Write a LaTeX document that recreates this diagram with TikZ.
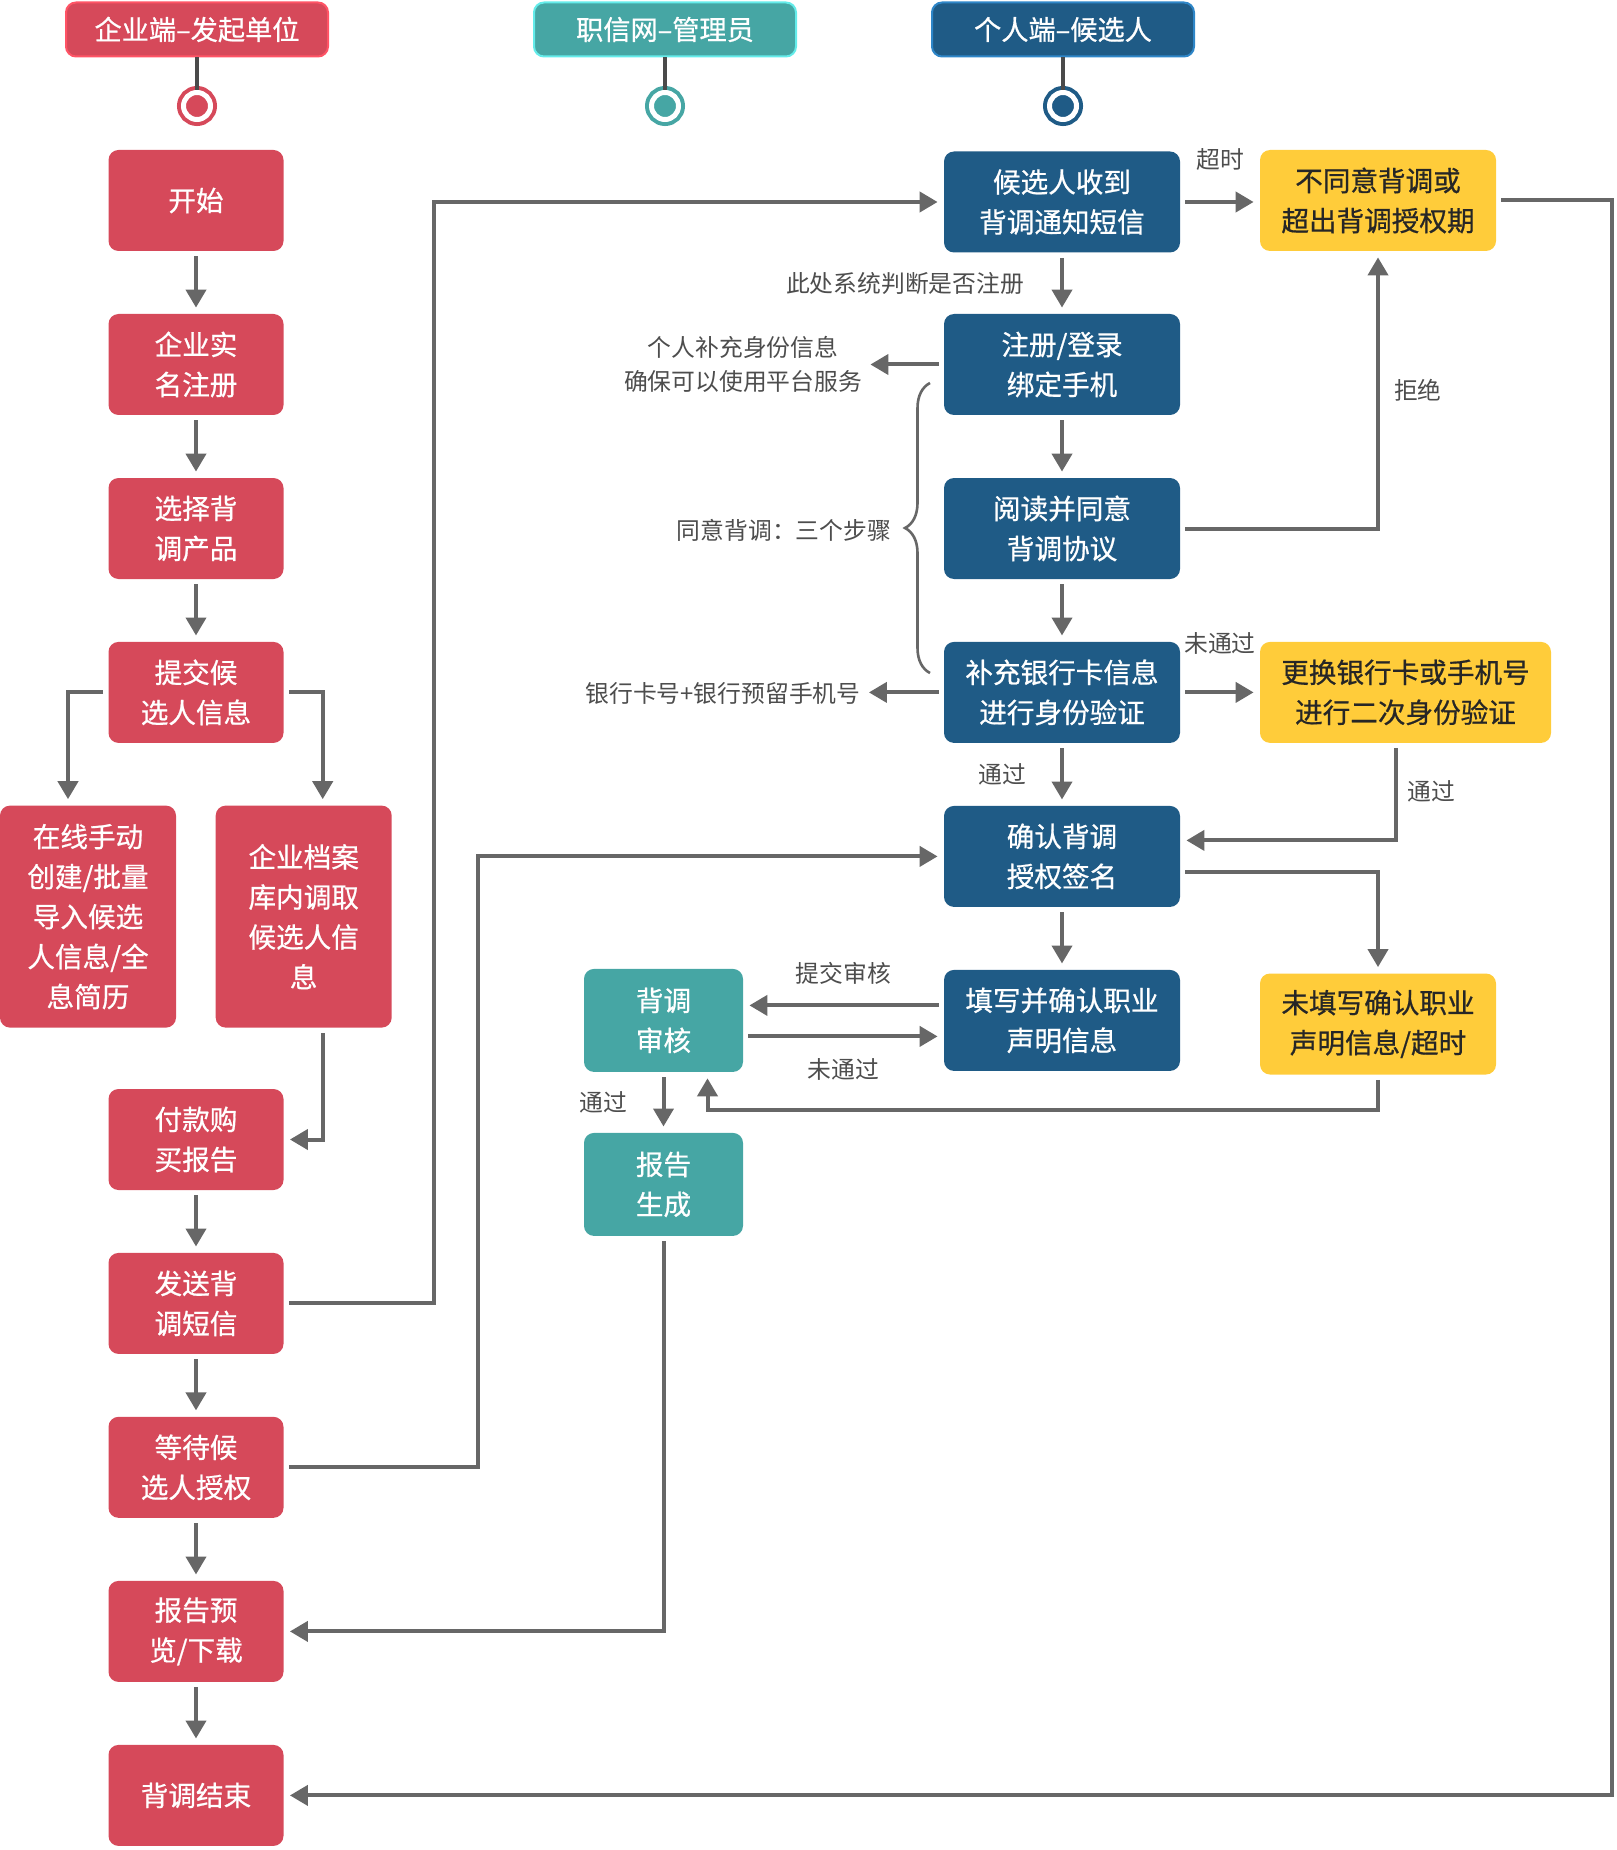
\documentclass[tikz,border=0pt]{standalone}
\usepackage{fontspec}
\setmainfont{Noto Sans CJK SC}
\newfontfamily\boxfont{Noto Sans CJK SC}[FakeBold=0.7]
\usetikzlibrary{arrows.meta,calc,decorations.pathreplacing}

\definecolor{entred}{HTML}{D6495A}
\definecolor{entredline}{HTML}{FF5466}
\definecolor{admteal}{HTML}{46A6A4}
\definecolor{admtealline}{HTML}{64ECEA}
\definecolor{candblue}{HTML}{1F5B86}
\definecolor{candblueline}{HTML}{2E86C8}
\definecolor{warnyellow}{HTML}{FFCC3A}
\definecolor{linegray}{HTML}{676767}
\definecolor{stemgray}{HTML}{4A4A4A}
\definecolor{labelgray}{HTML}{4D4D4D}

\begin{document}
\begin{tikzpicture}[x=0.5pt, y=-0.5pt,
    box/.style = {rounded corners=5pt, inner sep=0pt, align=center, font=\boxfont\fontsize{13.8}{20}\selectfont},
    ent/.style = {box, fill=entred, text=white, minimum width=87.5pt, minimum height=50.5pt},
    pick/.style = {ent, minimum width=88pt, minimum height=111pt},
    adm/.style = {box, fill=admteal, text=white, minimum width=79.5pt, minimum height=51.5pt},
    cand/.style = {box, fill=candblue, text=white, minimum width=118pt, minimum height=50.5pt},
    warn/.style = {box, fill=warnyellow, text=black!85, minimum width=118pt, minimum height=50.5pt},
    head/.style = {box, fill=#1, draw=#1line, line width=1pt, text=white, minimum width=131pt, minimum height=27pt, font=\boxfont\fontsize{13.6}{16}\selectfont},
    dot/.style = {circle, inner sep=0pt, minimum size=13.5pt, fill=#1, draw=#1, line width=2pt, double=white, double distance=2.5pt},
    stem/.style = {draw=stemgray, line width=2pt},
    lbl/.style = {text=labelgray, inner sep=1pt, align=center, font=\fontsize{11.9}{17}\selectfont},
    flow/.style = {draw=linegray, line width=2pt, -{Triangle[width=10pt,length=9pt]}, shorten <=2.5pt, shorten >=3pt}]
    \useasboundingbox (0,0) rectangle (1616,1850);

    % lanes
    \node[head=entred] (hent) at (197,29.5) {企业端–发起单位};
    \node[head=admteal] (hadm) at (665,29.5) {职信网–管理员};
    \node[head=candblue] (hcand) at (1063,29.5) {个人端–候选人};
    \node[dot=entred] (cent) at (197,106) {};
    \node[dot=admteal] (cadm) at (665,106) {};
    \node[dot=candblue] (ccand) at (1063,106) {};
    \draw[stem] (hent) -- (cent);
    \draw[stem] (hadm) -- (cadm);
    \draw[stem] (hcand) -- (ccand);

    % company side
    \node[ent] (start) at (196,200.5) {开始};
    \node[ent] (realname) at (196,364.5) {企业实\\名注册};
    \node[ent] (product) at (196,528.5) {选择背\\调产品};
    \node[ent] (submit) at (196,692.4) {提交候\\选人信息};
    \node[pick] (online) at (88,916.6) {在线手动\\创建/批量\\导入候选\\人信息/全\\息简历};
    \node[pick] (archive) at (303.7,916.6) {企业档案\\库内调取\\候选人信\\息};
    \node[ent] (pay) at (196,1139.5) {付款购\\买报告};
    \node[ent] (sms) at (196,1303.4) {发送背\\调短信};
    \node[ent] (wait) at (196,1467.3) {等待候\\选人授权};
    \node[ent] (preview) at (196,1631.4) {报告预\\览/下载};
    \node[ent] (finish) at (196,1795.4) {背调结束};

    % admin side
    \node[adm] (review) at (663.5,1020.4) {背调\\审核};
    \node[adm] (report) at (663.5,1184.4) {报告\\生成};

    % candidate side
    \node[cand] (notice) at (1062,202) {候选人收到\\背调通知短信};
    \node[cand] (reg) at (1062,364.5) {注册/登录\\绑定手机};
    \node[cand] (agree) at (1062,528.5) {阅读并同意\\背调协议};
    \node[cand] (bank) at (1062,692.4) {补充银行卡信息\\进行身份验证};
    \node[cand] (confirm) at (1062,856.4) {确认背调\\授权签名};
    \node[cand] (fill) at (1062,1020.4) {填写并确认职业\\声明信息};
    \node[warn] (refuse) at (1378,200.5) {不同意背调或\\超出背调授权期};
    \node[warn, minimum width=145.5pt] (change) at (1405.5,692.4) {更换银行卡或手机号\\进行二次身份验证};
    \node[warn] (unfilled) at (1378,1024) {未填写确认职业\\声明信息/超时};

    % notes
    \node[lbl] (noteid) at (743,364.5) {个人补充身份信息\\确保可以使用平台服务};
    \node[lbl] (notebank) at (723,693.6) {银行卡号+银行预留手机号};
    \node[lbl] (notesteps) at (784,530) {同意背调：三个步骤};
    \draw[draw=linegray, line width=1.3pt, decorate, decoration={brace, amplitude=12.5pt}] (930,673) -- (930,383);

    \coordinate (busA) at (434,0);
    \coordinate (busB) at (478,0);
    \coordinate (busC) at (1612,0);

    % company flow
    \draw[flow] (start) -- (realname);
    \draw[flow] (realname) -- (product);
    \draw[flow] (product) -- (submit);
    \draw[flow] (submit.west) -| ($(online.north)+(-20,0)$);
    \draw[flow] (submit.east) -| ($(archive.north)+(19,0)$);
    \draw[flow] ($(archive.south)+(19,0)$) |- (pay.east);
    \draw[flow] (pay) -- (sms);
    \draw[flow] (sms) -- (wait);
    \draw[flow] (wait) -- (preview);
    \draw[flow] (preview) -- (finish);
    \draw[flow] (sms.east) -| (busA |- notice.west) -- (notice.west);
    \draw[flow] (wait.east) -| (busB |- confirm.west) -- (confirm.west);
    \draw[flow] (report.south) |- (preview.east);
    \draw[flow] (refuse.east) -| (busC |- finish.east) -- (finish.east);

    % candidate flow
    \draw[flow] (notice) -- node[lbl, left=17pt] {此处系统判断是否注册} (reg);
    \draw[flow] (reg) -- (agree);
    \draw[flow] (agree) -- (bank);
    \draw[flow] (bank) -- node[lbl, left=16pt] {通过} (confirm);
    \draw[flow] (confirm) -- (fill);
    \draw[flow] (notice.east) -- node[lbl, above=14pt] {超时} (refuse.west |- notice.east);
    \draw[flow] (agree.east) -| node[lbl, pos=0.75, right=6pt] {拒绝} (refuse.south);
    \draw[flow] (bank.east) -- node[lbl, above=17pt] {未通过} (change.west |- bank.east);
    \draw[flow] ($(change.south)+(-10,0)$) |- node[lbl, pos=0.25, right=4pt] {通过} ($(confirm.east)+(0,-16)$);
    \draw[flow] ($(confirm.east)+(0,16)$) -| (unfilled.north);
    \draw[flow] (reg.west) -- (noteid.east |- reg.west);
    \draw[flow] (bank.west) -- (notebank.east |- bank.west);

    % review loop
    \draw[flow] ($(fill.west)+(0,-15)$) -- node[lbl, above=8.5pt] {提交审核} ($(review.east)+(0,-15)$);
    \draw[flow] ($(review.east)+(0,16)$) -- node[lbl, below=9pt] {未通过} ($(fill.west)+(0,16)$);
    \draw[flow] (review) -- node[lbl, left=16pt] {通过} (report);
    \draw[flow] (unfilled.south) |- ($(review.south)+(44,38)$) -- ($(review.south)+(44,0)$);
\end{tikzpicture}
\end{document}
